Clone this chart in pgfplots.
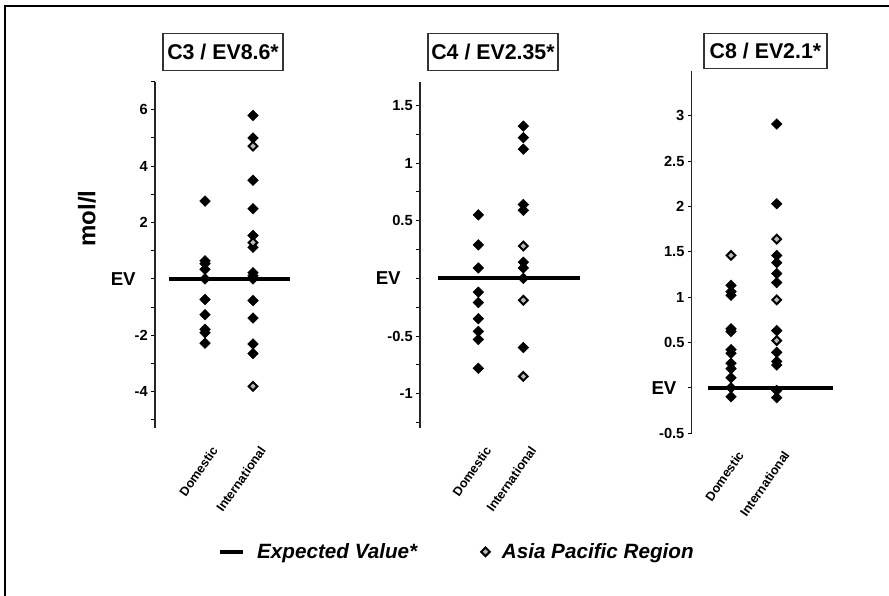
\documentclass[border=0pt]{standalone}
\usepackage{pgfplots}
\pgfplotsset{compat=1.18}
\usepackage{fontspec}
\setmainfont{Liberation Sans}

\pgfplotsset{
 panel/.style={
   scale only axis,
   anchor=south west,
   axis y line=left,
   axis x line=bottom,
   x axis line style={draw=none},
   y axis line style={-, line width=0.8pt, black!85},
   xtick={1,2},
   xticklabels={Domestic,International},
   x tick style={draw=none},
   xticklabel style={font=\fontsize{9.5}{10}\selectfont\bfseries, xshift=8pt, yshift=-11pt, rotate=55, anchor=east, inner sep=1pt},
   tick align=outside,
   major tick length=2.8pt,
   minor tick length=2.8pt,
   y tick style={black, line width=0.7pt},
   yticklabel style={font=\fontsize{11}{11}\selectfont\bfseries, inner sep=1pt, xshift=-1.5pt},
   clip=false,
 },
 dom/.style={only marks, mark=square*, mark size=2.8pt, mark options={rotate=45, fill=black, draw=black}},
 ap/.style={only marks, mark=square*, mark size=2.3pt, mark options={rotate=45, fill=gray!55, draw=black, line width=1.5pt}},
 evline/.style={black, line width=3.2pt, no marks},
}

\begin{document}
\begin{tikzpicture}
\useasboundingbox (0,0) rectangle (666.75pt,447pt);
\draw[line width=2pt] (3.75pt,0) -- (3.75pt,442.5pt) -- (666.75pt,442.5pt);

% Panel 1: C3
\begin{axis}[panel, at={(116.25pt,125.8pt)}, width=109.5pt, height=260pt,
  xmin=-0.042, xmax=3, ymin=-5.3, ymax=7,
  ytick={-4,-2,0,2,4,6}, minor ytick={-5,-3,-1,1,3,5,7},
  yticklabels={-4,-2,{\fontsize{14}{14}\selectfont EV\kern 9pt},2,4,6}]
\addplot[evline, forget plot] coordinates {(0.25,0) (2.77,0)};
\addplot[dom, forget plot] coordinates {(1,2.76) (1,0.64) (1,0.54) (1,0.34) (1,0) (1,-0.73) (1,-1.27) (1,-1.79) (1,-1.91) (1,-2.28)};
\addplot[dom, forget plot] coordinates {(2,5.8) (2,5.0) (2,3.5) (2,2.49) (2,1.54) (2,1.12) (2,0.22) (2,0.11) (2,0) (2,-0.77) (2,-1.39) (2,-2.31) (2,-2.65)};
\addplot[ap, forget plot] coordinates {(2,4.71) (2,1.29) (2,-3.81)};
\end{axis}

% Panel 2: C4
\begin{axis}[panel, at={(315pt,125.8pt)}, width=121.4pt, height=259.5pt,
  xmin=-0.296, xmax=3.3, ymin=-1.3, ymax=1.7,
  ytick={-1,-0.5,0,0.5,1,1.5}, minor ytick={-1.25,-0.75,-0.25,0.25,0.75,1.25},
  yticklabels={-1,-0.5,{\fontsize{14}{14}\selectfont EV\kern 9pt},0.5,1,1.5},
  legend columns=2,
  legend style={at={(axis description cs:0.23,-0.357)}, anchor=center, draw=none, fill=none,
    font=\fontsize{15.5}{16}\selectfont\bfseries\itshape,
    /tikz/every odd column/.append style={column sep=7pt},
    /tikz/every even column/.append style={column sep=46pt}}]
\addplot[evline] coordinates {(0.104,0) (3.26,0)};
\addlegendentry{Expected Value*}
\addplot[ap] coordinates {(2,0.28) (2,-0.19) (2,-0.85)};
\addlegendentry{Asia Pacific Region}
\addplot[dom, forget plot] coordinates {(1,0.55) (1,0.29) (1,0.09) (1,-0.12) (1,-0.21) (1,-0.35) (1,-0.46) (1,-0.53) (1,-0.78)};
\addplot[dom, forget plot] coordinates {(2,1.32) (2,1.22) (2,1.12) (2,0.64) (2,0.59) (2,0.14) (2,0.09) (2,0) (2,-0.60)};
\end{axis}

% Panel 3: C8
\begin{axis}[panel, at={(518.8pt,122.25pt)}, width=108.3pt, height=271.8pt,
  xmin=0.14, xmax=3.3, ymin=-0.5, ymax=3.5,
  ytick={-0.5,0,0.5,1,1.5,2,2.5,3},
  yticklabels={-0.5,{\fontsize{14}{14}\selectfont EV\kern 6pt},0.5,1,1.5,2,2.5,3}]
\addplot[evline, forget plot] coordinates {(0.497,0) (3.23,0)};
\addplot[dom, forget plot] coordinates {(1,1.13) (1,1.06) (1,1.02) (1,0.65) (1,0.62) (1,0.42) (1,0.38) (1,0.27) (1,0.21) (1,0.11) (1,0) (1,-0.1)};
\addplot[dom, forget plot] coordinates {(2,2.91) (2,2.03) (2,1.46) (2,1.38) (2,1.26) (2,1.16) (2,0.63) (2,0.39) (2,0.29) (2,0.25) (2,-0.03) (2,-0.11)};
\addplot[ap, forget plot] coordinates {(1,1.46) (2,1.64) (2,0.97) (2,0.52)};
\end{axis}

% titles
\node[draw=black!80, line width=0.8pt, minimum width=90pt, minimum height=27.75pt, inner sep=1pt, font=\fontsize{16}{16}\selectfont\bfseries] at (167.25pt,408pt) {C3 / EV8.6*};
\node[draw=black!80, line width=0.8pt, minimum width=97.5pt, minimum height=27.75pt, inner sep=1pt, font=\fontsize{16}{16}\selectfont\bfseries] at (369.75pt,408pt) {C4 / EV2.35*};
\node[draw=black!80, line width=0.8pt, minimum width=92.25pt, minimum height=26.25pt, inner sep=1pt, font=\fontsize{16}{16}\selectfont\bfseries] at (574.1pt,408.4pt) {C8 / EV2.1*};

% y label
\node[rotate=90, anchor=base, font=\fontsize{18}{18}\selectfont\bfseries] at (71.5pt,283pt) {mol/l};
\end{tikzpicture}
\end{document}
